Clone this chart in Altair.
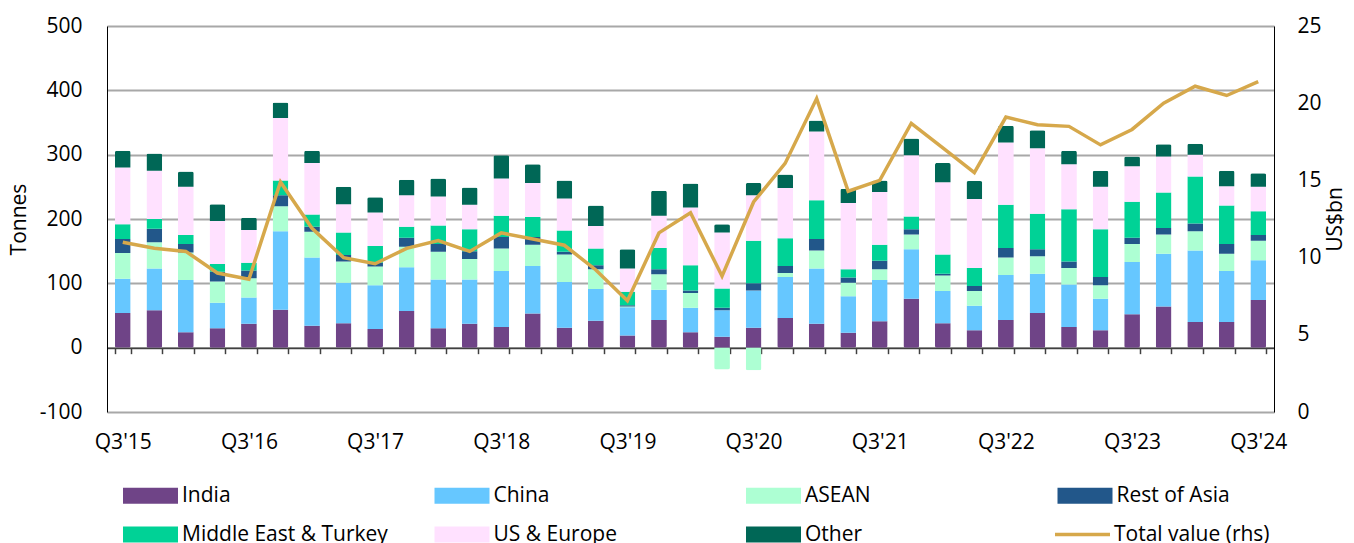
import altair as alt
import pandas as pd

quarters = ["Q3'15", "Q4'15", "Q1'16", "Q2'16", "Q3'16", "Q4'16", "Q1'17", "Q2'17",
            "Q3'17", "Q4'17", "Q1'18", "Q2'18", "Q3'18", "Q4'18", "Q1'19", "Q2'19",
            "Q3'19", "Q4'19", "Q1'20", "Q2'20", "Q3'20", "Q4'20", "Q1'21", "Q2'21",
            "Q3'21", "Q4'21", "Q1'22", "Q2'22", "Q3'22", "Q4'22", "Q1'23", "Q2'23",
            "Q3'23", "Q4'23", "Q1'24", "Q2'24", "Q3'24"]

regions = ["India", "China", "ASEAN", "Rest of Asia", "Middle East & Turkey",
           "US & Europe", "Other"]
region_colors = ["#6F4487", "#66C7FF", "#ADFFD3", "#22578A", "#00D296", "#FFE1FF", "#006756"]
# legend is filled column by column (2 rows): order so it reads row by row
legend_order = ["India", "Middle East & Turkey", "China", "US & Europe", "ASEAN", "Other",
                "Rest of Asia"]

india = [54, 58, 24, 30, 37, 59, 34, 38, 29, 57, 30, 37, 32, 53, 31, 42, 19, 43, 24, 17,
         31, 46, 37, 23, 41, 76, 38, 27, 43, 54, 32, 27, 52, 64, 40, 40, 74]
china = [53, 65, 81, 40, 41, 122, 106, 63, 68, 68, 76, 69, 87, 74, 71, 49, 44, 47, 38, 41,
         58, 64, 86, 57, 64, 77, 50, 38, 70, 61, 66, 49, 81, 82, 111, 79, 62]
asean = [40, 41, 43, 33, 30, 39, 40, 33, 29, 32, 43, 32, 35, 33, 43, 31, 1, 24, 23, -34,
         -35, 6, 28, 21, 17, 23, 24, 23, 27, 27, 26, 21, 28, 30, 30, 27, 30]
rest_of_asia = [22, 21, 13, 15, 12, 17, 8, 10, 6, 14, 12, 12, 18, 12, 4, 6, 2, 8, 4, 4,
                11, 11, 18, 8, 13, 8, 3, 8, 15, 11, 10, 13, 10, 10, 12, 15, 9]
middle_east = [23, 15, 14, 12, 12, 23, 19, 35, 26, 17, 29, 34, 33, 31, 33, 26, 21, 33, 39, 30,
               66, 43, 60, 13, 25, 20, 30, 28, 67, 55, 81, 74, 56, 55, 73, 60, 37]
us_europe = [88, 75, 75, 67, 51, 97, 80, 44, 52, 49, 45, 38, 58, 53, 50, 35, 36, 50, 90, 87,
             71, 78, 107, 103, 82, 95, 112, 107, 97, 102, 70, 66, 55, 56, 34, 30, 38]
other = [26, 27, 24, 26, 19, 24, 19, 27, 24, 24, 28, 27, 36, 29, 28, 32, 30, 39, 37, 13,
         19, 21, 17, 22, 18, 26, 30, 28, 26, 28, 21, 25, 15, 19, 17, 24, 21]

total_value = [11.0, 10.6, 10.4, 9.0, 8.6, 14.9, 11.9, 10.0, 9.6, 10.6, 11.1, 10.4, 11.6,
               11.2, 10.8, 9.2, 7.2, 11.6, 12.9, 8.8, 13.6, 16.1, 20.3, 14.3, 15.0, 18.7,
               17.1, 15.5, 19.1, 18.6, 18.5, 17.3, 18.3, 20.0, 21.1, 20.5, 21.4]

line_name = "Total value (rhs)"
line_color = "#D6A84B"

series = [india, china, asean, rest_of_asia, middle_east, us_europe, other]
rows = []
for k, (name, vals) in enumerate(zip(regions, series)):
    for q, v in zip(quarters, vals):
        rows.append({"quarter": q, "region": name, "tonnes": v, "order": k})
bars_df = pd.DataFrame(rows)
line_df = pd.DataFrame({"quarter": quarters, "value": total_value,
                        "series": [line_name] * len(quarters)})

color_by_region = dict(zip(regions, region_colors))
legend_colors = [color_by_region[r] for r in legend_order]

FONT = "Open Sans"
W, H = 1167, 386
zero_offset = -H * 100 / 600

x_axis = alt.Axis(
    offset=zero_offset,
    domainColor="#404040", domainWidth=1.5,
    ticks=True, tickBand="extent", tickSize=6, tickColor="#404040", tickWidth=1.5,
    labelExpr="slice(datum.label, 0, 2) == 'Q3' ? datum.label : ''",
    labelAngle=0, labelOverlap=False, labelPadding=78,
)
x_enc = alt.X("quarter:N", sort=quarters, title=None,
              scale=alt.Scale(paddingInner=0.5, paddingOuter=0.25), axis=x_axis)

bar_path = "M-1,-0.29H1V0.29H-1Z"

bars = alt.Chart(bars_df).mark_bar(cornerRadius=2).encode(
    x=x_enc,
    y=alt.Y("tonnes:Q", stack="zero",
            scale=alt.Scale(domain=[-100, 500], nice=False, zero=False),
            axis=alt.Axis(orient="left", values=[-100, 0, 100, 200, 300, 400, 500],
                          labelExpr="'' + datum.value",
                          title="Tonnes", grid=True, gridColor="#A8A8A8", gridWidth=2,
                          domainColor="black", domainWidth=1, ticks=False,
                          labelPadding=25, titlePadding=10)),
    color=alt.Color("region:N", scale=alt.Scale(domain=legend_order, range=legend_colors),
                    legend=alt.Legend(title=None, orient="none", legendX=16, legendY=442,
                                      columns=4, gridAlign="all", columnPadding=46.5,
                                      rowPadding=1, symbolType=bar_path, symbolSize=3025,
                                      symbolStrokeWidth=0, symbolOpacity=1, labelOffset=4,
                                      labelLimit=400,
                                      labelFontSize=21, labelFont=FONT, labelColor="black",
                                      padding=0)),
    order=alt.Order("order:Q", sort="ascending"),
)

line = alt.Chart(line_df).mark_line(strokeWidth=3.5).encode(
    x=x_enc,
    y=alt.Y("value:Q", scale=alt.Scale(domain=[0, 25], nice=False),
            axis=alt.Axis(orient="right", values=[0, 5, 10, 15, 20, 25], title="US$bn",
                          grid=False, domainColor="black", domainWidth=1, ticks=False,
                          labelPadding=23, titlePadding=3, titleAngle=270,
                          titleBaseline="top")),
    stroke=alt.Stroke("series:N", scale=alt.Scale(domain=[line_name], range=[line_color]),
                      legend=alt.Legend(title=None, orient="none", legendX=946, legendY=479,
                                        symbolType="stroke", symbolSize=3025,
                                        symbolStrokeWidth=3.5, labelOffset=2, labelLimit=400,
                                        labelFontSize=21, labelFont=FONT, labelColor="black",
                                        padding=0)),
)

chart = alt.layer(bars, line).resolve_scale(y="independent", color="independent").properties(
    width=W, height=H,
    padding={"left": 0, "top": 7, "right": 0, "bottom": 0},
).configure_axis(
    labelFont=FONT, labelFontSize=21, labelColor="black",
    titleFont=FONT, titleFontSize=21, titleFontWeight="normal", titleColor="black",
).configure_view(strokeWidth=0)

chart.save("out.html", embed_options={"renderer": "svg", "actions": False})
